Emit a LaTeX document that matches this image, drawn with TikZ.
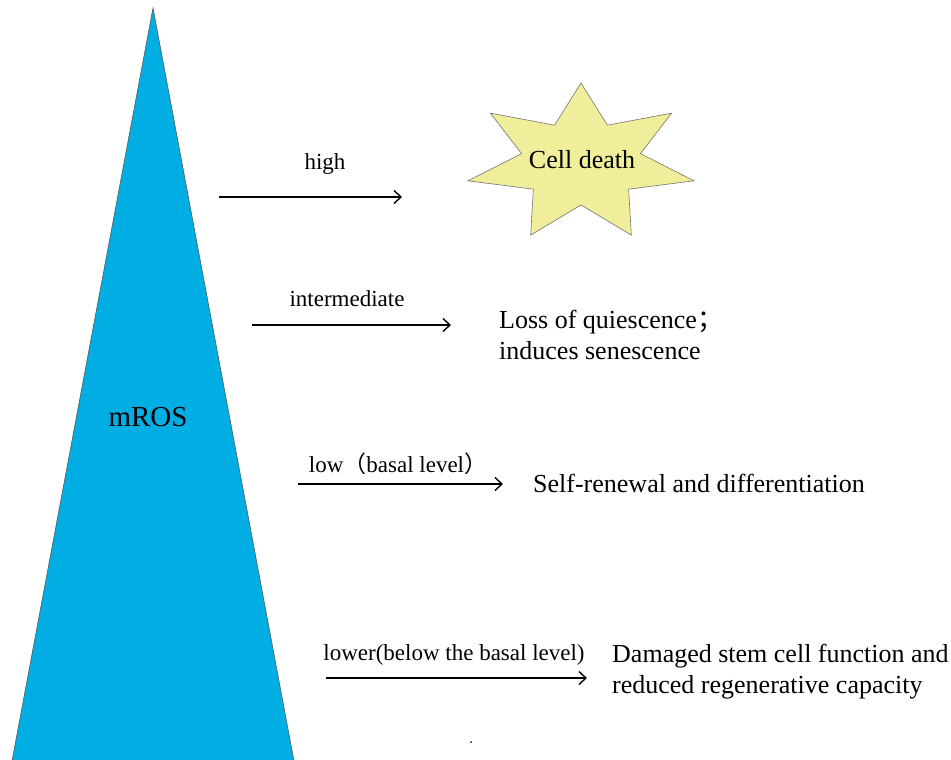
\documentclass[tikz,border=0pt]{standalone}
\usepackage{fontspec}
\setmainfont{Liberation Serif}
\newfontfamily\cjk{Noto Sans CJK SC}
\usetikzlibrary{positioning}
\usetikzlibrary{arrows.meta}
\definecolor{rosblue}{RGB}{0,174,228}
\definecolor{deathyellow}{RGB}{240,237,155}

\begin{document}
\begin{tikzpicture}[x=1pt, y=-1pt,
		level/.style={line width=1.4pt, -{Straight Barb[length=7pt, width=13pt]}},
		tag/.style={font=\fontsize{23}{23}\selectfont, inner sep=0pt},
		outcome/.style={font=\fontsize{26}{31}\selectfont, align=left, inner sep=0pt}]
		\useasboundingbox (0,0) rectangle (951,760);
		% the mROS wedge
		\filldraw [fill=rosblue, draw=black!65, line width=0.6pt] (153,8) -- (294,761) -- (12,761) -- cycle;
		\node at (148,417) [font=\fontsize{29}{29}\selectfont, inner sep=0pt] (ros) {mROS};
		% seven pointed star, stretched sideways
		\filldraw [fill=deathyellow, draw=black!55, line width=0.6pt] (581,83)
			\foreach \i in {1,...,13} {
				-- ({581+1.45*(61+19*cos(\i*180))*cos(90+\i*360/14)}, {163-(61+19*cos(\i*180))*sin(90+\i*360/14)})
			} -- cycle;
		\node at (582,168) [anchor=base, font=\fontsize{26}{26}\selectfont, inner sep=0pt] (death) {Cell death};
		% levels
		\coordinate (highA) at (219,197);
		\coordinate (highB) at (402,197);
		\coordinate (midA) at (252,325);
		\coordinate (midB) at (451,325);
		\coordinate (lowA) at (298,484);
		\coordinate (lowB) at (503,484);
		\coordinate (lowerA) at (326,678);
		\coordinate (lowerB) at (587,678);
		\draw [level] (highA) -- (highB);
		\draw [level] (midA) -- (midB);
		\draw [level] (lowA) -- (lowB);
		\draw [level] (lowerA) -- (lowerB);
		\node at (325,169) [tag, anchor=base] (hightag) {high};
		\node at (347,306) [tag, anchor=base] (midtag) {intermediate};
		\node at (398,472) [tag, anchor=base] (lowtag) {low{\cjk（}basal level{\cjk）}};
		\node at (454,660) [tag, anchor=base] (lowertag) {lower(below the basal level)};
		% outcomes
		\node at (499,335) [outcome, anchor=west] (quiet) {Loss of quiescence{\cjk；}\\induces senescence};
		\node at (533,492) [outcome, anchor=base west] (renew) {Self-renewal and differentiation};
		\node at (612,672) [outcome, anchor=west] (damage) {Damaged stem cell function and\\reduced regenerative capacity};
		\node at (471,742) [circle, fill, inner sep=0.7pt] (speck) {};
\end{tikzpicture}
\end{document}
